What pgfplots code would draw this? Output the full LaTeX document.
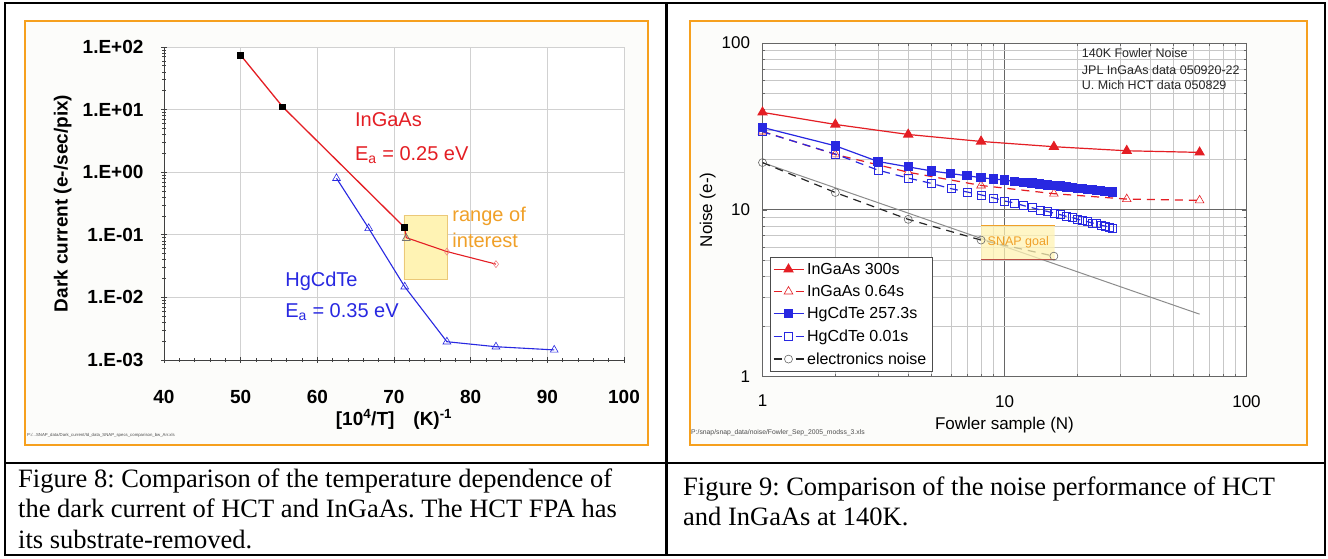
\documentclass[border=0pt]{standalone}
\usepackage{fontspec}
\setmainfont{Liberation Serif}
\newfontfamily\arial{Liberation Sans}
\usepackage{pgfplots}
\pgfplotsset{compat=1.18}
\definecolor{frameorange}{RGB}{246,160,30}
\definecolor{lred}{RGB}{228,30,36}
\definecolor{lblue}{RGB}{40,40,225}
\definecolor{roifill}{RGB}{255,243,180}
\definecolor{roiedge}{RGB}{235,200,120}
\definecolor{txtorange}{RGB}{240,160,40}
\definecolor{goalred}{RGB}{190,80,70}
\definecolor{bgpanel}{RGB}{252,252,250}
\frenchspacing
\begin{document}
\begin{tikzpicture}
\begin{scope}[x=1pt,y=1pt]
\path[use as bounding box] (0,0) rectangle (1328,558);
\fill[white] (0,0) rectangle (1328,558);
\draw[frameorange,line width=2pt,fill=bgpanel] (25,113) rectangle (648,537.3);
\draw[frameorange,line width=2pt,fill=bgpanel] (689.7,113) rectangle (1306.7,537.3);
\draw[line width=2.2pt] (5,3) rectangle (1325,555);
\draw[line width=2.2pt] (666.5,3) -- (666.5,555);
\draw[line width=2.2pt] (5,95) -- (1325,95);
\begin{scope}[every node/.style={anchor=base west, inner sep=0pt, font=\fontsize{26.5}{30}\selectfont}]
\node at (18,70.5) {Figure 8: Comparison of the temperature dependence of};
\node at (18,40.5) {the dark current of HCT and InGaAs. The HCT FPA has};
\node at (18,9.5) {its substrate-removed.};
\node at (683,63) {Figure 9: Comparison of the noise performance of HCT};
\node at (683,33) {and InGaAs at 140K.};
\end{scope}
\node[anchor=west, inner sep=0pt, font=\arial\fontsize{4.3}{5}\selectfont, text=black!70] at (27,123) {P:/...SNAP\_data/Dark\_current/Id\_data\_SNAP\_specs\_comparison\_bw\_Arr.xls};
\node[anchor=west, inner sep=0pt, font=\arial\fontsize{6.8}{8}\selectfont, text=black!70] at (691,125) {P:/snap/snap\_data/noise/Fowler\_Sep\_2005\_modss\_3.xls};
\end{scope}

% ---------------- left chart ----------------
\begin{axis}[
  at={(164pt,198pt)}, anchor=south west,
  scale only axis, width=460pt, height=313pt,
  xmin=40, xmax=100, ymode=log, ymin=1e-3, ymax=1e2,
  axis background/.style={fill=white},
  axis lines*=left,
  axis line style={black!75, line width=0.8pt},
  xtick={40,50,60,70,80,90,100}, xticklabels={40,50,60,70,80,90,100},
  minor x tick num=4,
  ytick={1e-3,1e-2,1e-1,1,10,100},
  yticklabels={1.E-03,1.E-02,1.E-01,1.E+00,1.E+01,1.E+02},
  minor ytick={0.002,0.003,0.004,0.005,0.006,0.007,0.008,0.009,0.02,0.03,0.04,0.05,0.06,0.07,0.08,0.09,0.2,0.3,0.4,0.5,0.6,0.7,0.8,0.9,2,3,4,5,6,7,8,9,20,30,40,50,60,70,80,90},
  grid=major, major grid style={black!18, line width=0.8pt},
  tick align=center, major tick length=6pt, minor tick length=4pt,
  tick style={black!75, line width=0.7pt},
  ticklabel style={font=\arial\bfseries\fontsize{19}{19}\selectfont},
  xticklabel style={yshift=-24pt},
  yticklabel style={xshift=-14pt},
  xlabel={[10\textsuperscript{4}/T]\quad(K)\textsuperscript{-1}},
  ylabel={Dark current (e-/sec/pix)},
  label style={font=\arial\bfseries\fontsize{19}{19}\selectfont},
  xlabel style={at={(axis description cs:0.5,-0.19)}, anchor=center},
  ylabel style={at={(axis description cs:-0.22,0.5)}, anchor=center},
  clip=false,
]
\addplot[draw=roiedge, fill=roifill, line width=0.6pt] coordinates {(71.3,0.0195) (77,0.0195) (77,0.207) (71.3,0.207) (71.3,0.0195)};
\addplot[lblue, line width=1.1pt, mark=triangle, mark size=4.5pt, mark options={line width=0.6pt, solid}] coordinates {(62.5,0.8) (66.7,0.127) (71.4,0.0148) (76.9,0.00196) (83.3,0.00163) (90.9,0.00145)};
\addplot[lred, line width=1.1pt, mark=diamond, mark size=3.5pt, mark indices={3,4}, mark options={draw=lred!55, fill=white, line width=0.6pt}] coordinates {(71.4,0.13) (71.6,0.09) (76.9,0.054) (83.3,0.034)};
\addplot[lred, line width=1.3pt, mark=square*, mark size=2.8pt, mark options={draw=black, fill=black}] coordinates {(50,74) (55.5,11) (71.4,0.13)};
\addplot[only marks, mark=triangle, mark size=4.5pt, mark options={draw=black!55, line width=0.7pt}] coordinates {(71.6,0.088)};
\begin{scope}[every node/.style={anchor=west, inner sep=0pt, font=\arial\fontsize{20}{20}\selectfont}]
\node[text=lred] at (axis cs:64.9,6.8) {InGaAs};
\node[text=lred] at (axis cs:64.9,1.88) {E\textsubscript{a} = 0.25 eV};
\node[text=lblue] at (axis cs:55.8,0.0178) {HgCdTe};
\node[text=lblue] at (axis cs:55.8,0.0059) {E\textsubscript{a} = 0.35 eV};
\node[text=txtorange] at (axis cs:77.6,0.195) {range of};
\node[text=txtorange] at (axis cs:77.6,0.0826) {interest};
\end{scope}
\end{axis}

% ---------------- right chart ----------------
\begin{axis}[
  at={(762.5pt,181.3pt)}, anchor=south west,
  scale only axis, width=484pt, height=333.7pt,
  xmode=log, ymode=log, xmin=1, xmax=100, ymin=1, ymax=100,
  axis background/.style={fill=white},
  xtick={1,10,100}, xticklabels={1,10,100},
  ytick={1,10,100}, yticklabels={1,10,100},
  minor xtick={2,3,4,5,6,7,8,9,20,30,40,50,60,70,80,90},
  minor ytick={2,3,4,5,6,7,8,9,20,30,40,50,60,70,80,90},
  grid=both,
  minor grid style={black!22, line width=0.6pt},
  major grid style={black!60, line width=0.8pt},
  axis line style={black!60, line width=0.8pt},
  tick style={black!60, line width=0.6pt},
  ticklabel style={font=\arial\fontsize{17}{17}\selectfont},
  xticklabel style={yshift=-15pt},
  yticklabel style={xshift=-9pt},
  xlabel={Fowler sample (N)}, ylabel={Noise (e-)},
  label style={font=\arial\fontsize{17}{17}\selectfont},
  xlabel style={at={(axis description cs:0.5,-0.145)}, anchor=center},
  ylabel style={at={(axis description cs:-0.113,0.5)}, anchor=center},
  legend style={at={(0.0149,0.3578)}, anchor=north west, draw=black!70, fill=white,
    font=\arial\fontsize{16}{16}\selectfont, inner xsep=3pt, inner ysep=4pt, row sep=6.5pt,
    nodes={inner xsep=3pt, inner ysep=1.5pt}},
  legend cell align=left,
  legend image code/.code={\draw[mark repeat=2,mark phase=2] plot coordinates {(0pt,0pt) (15pt,0pt) (30pt,0pt)};},
]
\addplot[forget plot, black!45, line width=1pt] coordinates {(1,19.2) (64,2.37)};
\addplot[lred, line width=1.2pt, mark=triangle*, mark size=5pt, mark options={solid}] coordinates {(1,38.4) (2,32.5) (4,28.3) (8,25.7) (16,23.9) (32,22.6) (64,22.1)};
\addlegendentry{InGaAs 300s}
\addplot[lred, line width=1.2pt, dash pattern=on 8pt off 6pt, mark=triangle, mark size=5pt, mark options={solid, line width=0.6pt}, legend image post style={dash pattern=on 8pt off 14pt}] coordinates {(1,29.5) (2,21.5) (4,16.8) (8,14) (16,12.5) (32,11.6) (64,11.4)};
\addlegendentry{InGaAs 0.64s}
\addplot[lblue, line width=1.2pt, mark=square*, mark size=4pt, mark options={solid}] coordinates {(1,31.2) (2,24.2) (3,19.5) (4,18.1) (5,17.1) (6,16.5) (7,16.0) (8,15.6) (9,15.3) (10,15.1) (11,14.8) (12,14.6) (13,14.5) (14,14.3) (15,14.1) (16,14.0) (17,13.9) (18,13.7) (19,13.6) (20,13.5) (21,13.4) (22,13.3) (23,13.2) (24,13.1) (25,13.0) (26,12.9) (27,12.9) (28,12.8)};
\addlegendentry{HgCdTe 257.3s}
\addplot[lblue, line width=1.2pt, dash pattern=on 8pt off 6pt, mark=square, mark size=4pt, mark options={solid, line width=0.6pt}, legend image post style={dash pattern=on 8pt off 14pt}] coordinates {(1,29.4) (2,21.6) (3,17.3) (4,15.5) (5,14.4) (6,13.4) (7,12.8) (8,12.3) (9,11.8) (10,11.3) (11,11.0) (12,10.6) (13,10.3) (14,10.0) (15,9.8) (16,9.55) (17,9.35) (18,9.15) (19,9.0) (20,8.8) (21,8.65) (22,8.5) (23,8.35) (24,8.25) (25,8.1) (26,8.0) (27,7.9) (28,7.8)};
\addlegendentry{HgCdTe 0.01s}
\addplot[black!85, line width=1.2pt, dash pattern=on 8pt off 6pt, mark=o, mark size=4pt, mark options={solid, draw=black!60, line width=0.6pt}, legend image post style={dash pattern=on 8pt off 14pt}] coordinates {(1,19.2) (2,12.7) (4,8.77) (8,6.59) (16,5.28)};
\addlegendentry{electronics noise}
\addplot[forget plot, draw=none, fill=roifill, fill opacity=0.75] coordinates {(8,5.05) (16.1,5.05) (16.1,8.1) (8,8.1) (8,5.05)};
\addplot[forget plot, txtorange, line width=1pt] coordinates {(8,8.1) (16.1,8.1)};
\addplot[forget plot, goalred, line width=1pt] coordinates {(8,5.05) (16.1,5.05)};
\node[anchor=center, inner sep=0pt, text=txtorange, font=\arial\fontsize{12.5}{13}\selectfont] at (axis cs:11.4,6.4) {SNAP goal};
\end{axis}

\begin{scope}[x=1pt,y=1pt, every node/.style={anchor=west, inner sep=0pt, font=\arial\fontsize{12.5}{14}\selectfont, text=black!85}]
\node at (1081.7,504.7) {140K Fowler Noise};
\node at (1081.7,488) {JPL InGaAs data 050920-22};
\node at (1081.7,473) {U. Mich HCT data 050829};
\end{scope}
\end{tikzpicture}
\end{document}
